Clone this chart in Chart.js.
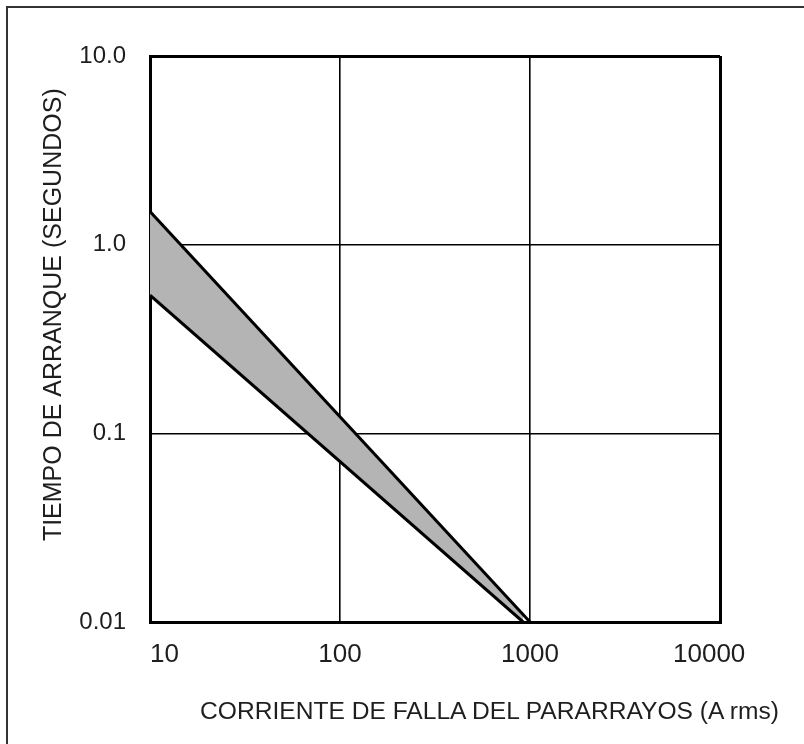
<!DOCTYPE html>
<html>
<head>
<meta charset="utf-8">
<script src="https://cdn.jsdelivr.net/npm/chart.js@4"></script>
<style>
  html, body { margin: 0; padding: 0; overflow: hidden; background: #fff; width: 804px; height: 744px; }
  #frame { position: absolute; left: 6px; top: 6px; width: 1200px; height: 1200px; border: 2px solid #333; box-sizing: border-box; }
  #c { position: absolute; left: 0; top: 0; }
  #xtitle { position: absolute; left: 200px; top: 699px; margin: 0; white-space: nowrap;
            font-family: "Liberation Sans", Arial, Helvetica, sans-serif; font-size: 24.6px; line-height: 24px;
            color: #1e1e1e; }
</style>
</head>
<body>
<div id="frame"></div>
<canvas id="c" width="804" height="744"></canvas>
<div id="xtitle"></div>
<script>
// ---- data ----
const upperCurrent = [10, 1000];      // A rms
const upperTime    = [1.5, 0.01];     // s
const lowerCurrent = [10, 920];
const lowerTime    = [0.54, 0.01];
const xTickValues  = [10, 100, 1000, 10000];
const xTickLabels  = ['    10', '100', '1000', '10000   '];
const yTickValues  = [0.01, 0.1, 1, 10];
const yTickLabels  = ['0.01', '0.1', '1.0', '10.0'];
const xTitle = 'CORRIENTE DE FALLA DEL PARARRAYOS (A rms)';
const yTitle = '       TIEMPO DE ARRANQUE (SEGUNDOS)';

const FONT = '"Liberation Sans", Arial, Helvetica, sans-serif';
const TXT = '#1e1e1e';

document.getElementById('xtitle').textContent = xTitle;

function pts(xs, ys) { return xs.map((x, i) => ({x: x, y: ys[i]})); }

const edgeW = 3, innerW = 1.6;

new Chart(document.getElementById('c'), {
  type: 'line',
  data: {
    datasets: [
      {
        data: pts(upperCurrent, upperTime),
        borderColor: '#000', borderWidth: 3, pointRadius: 0,
        backgroundColor: '#b4b4b4', fill: '+1', tension: 0
      },
      {
        data: pts(lowerCurrent, lowerTime),
        borderColor: '#000', borderWidth: 3, pointRadius: 0,
        fill: false, tension: 0
      }
    ]
  },
  options: {
    responsive: false,
    animation: false,
    events: [],
    layout: { padding: { left: 0, top: 56, right: 84, bottom: 0 } },
    plugins: {
      legend: { display: false }, tooltip: { enabled: false },
      filler: { drawTime: 'beforeDatasetsDraw' }
    },
    scales: {
      x: {
        type: 'logarithmic', min: 10, max: 10000,
        afterBuildTicks: s => { s.ticks = xTickValues.map(v => ({value: v})); },
        afterFit: s => { s.height = 122; },
        ticks: {
          autoSkip: false, maxRotation: 0, padding: 17, color: TXT,
          font: { family: FONT, size: 26 },
          callback: (v) => xTickLabels[xTickValues.indexOf(v)]
        },
        grid: {
          drawTicks: false, color: '#000',
          lineWidth: ctx => (ctx.index === 0 || ctx.index === xTickValues.length - 1) ? edgeW : innerW
        },
        border: { display: true, color: '#000', width: edgeW },
        title: { display: false }
      },
      y: {
        type: 'logarithmic', min: 0.01, max: 10,
        afterBuildTicks: s => { s.ticks = yTickValues.map(v => ({value: v})); },
        afterFit: s => { s.width = 150; },
        ticks: {
          autoSkip: false, padding: 24, color: TXT,
          font: { family: FONT, size: 24 },
          callback: (v) => yTickLabels[yTickValues.indexOf(v)]
        },
        grid: {
          drawTicks: false, color: '#000',
          lineWidth: ctx => (ctx.index === 0 || ctx.index === yTickValues.length - 1) ? edgeW : innerW
        },
        border: { display: true, color: '#000', width: edgeW },
        title: {
          display: true, text: yTitle, color: TXT,
          font: { family: FONT, size: 25 }, padding: { top: 39, bottom: 0 }
        }
      }
    }
  }
});
</script>
</body>
</html>
